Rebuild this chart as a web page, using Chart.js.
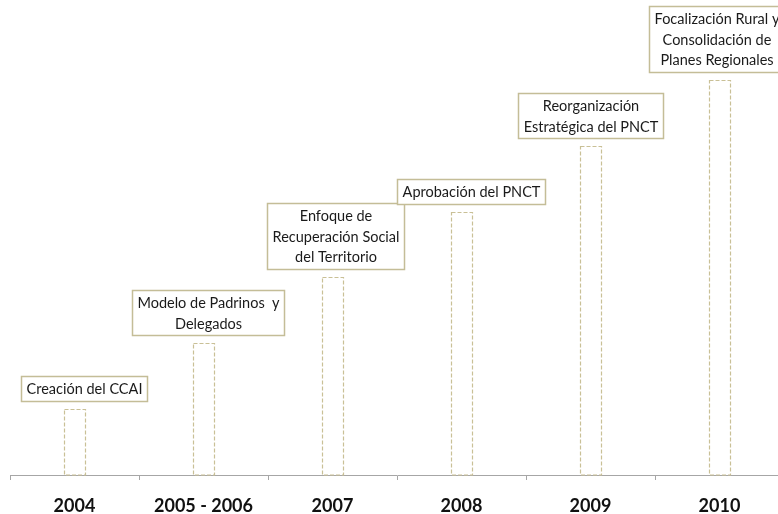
<!DOCTYPE html>
<html>
<head>
<meta charset="utf-8">
<script src="https://cdn.jsdelivr.net/npm/chart.js@4/dist/chart.umd.min.js"></script>
<style>
html, body { margin: 0; padding: 0; background: #fff; overflow: hidden; }
#wrap { width: 784px; height: 514px; }
</style>
</head>
<body>
<div id="wrap"><canvas id="chart"></canvas></div>
<script>
const years = ['2004', '2005 - 2006', '2007', '2008', '2009', '2010'];
const steps = [1, 2, 3, 4, 5, 6];
const milestones = [
    ['Creación del CCAI'],
    ['Modelo de Padrinos  y', 'Delegados'],
    ['Enfoque de', 'Recuperación Social', 'del Territorio'],
    ['Aprobación del PNCT'],
    ['Reorganización', 'Estratégica del PNCT'],
    ['Focalización Rural y', 'Consolidación de', 'Planes Regionales']
];

// bars in Chart.js can't be dashed, so stroke them ourselves from the bar elements
const dashedBars = {
    id: 'dashedBars',
    afterDatasetsDraw(chart, args, opts) {
        const ctx = chart.ctx;
        ctx.save();
        ctx.strokeStyle = opts.color;
        ctx.lineWidth = 1.2;
        ctx.setLineDash([4, 2]);
        chart.getDatasetMeta(0).data.forEach(bar => {
            const l = Math.round(bar.x - bar.width / 2) + 0.5;
            const r = Math.round(bar.x + bar.width / 2) - 0.5;
            const t = Math.round(bar.y) + 0.5;
            const b = Math.round(bar.base);
            ctx.strokeRect(l, t, r - l, b - t);
        });
        ctx.restore();
    }
};

const milestoneBoxes = {
    id: 'milestoneBoxes',
    afterDatasetsDraw(chart, args, opts) {
        const ctx = chart.ctx;
        ctx.save();
        ctx.font = opts.font;
        chart.getDatasetMeta(0).data.forEach((bar, i) => {
            const lines = milestones[i];
            const w = Math.round(Math.max(...lines.map(t => ctx.measureText(t).width)) + opts.padX * 2);
            const h = Math.round(lines.length * opts.lineHeight + opts.padY * 2);
            const cx = bar.x + (opts.shift[i] || 0);
            const left = Math.round(cx - w / 2) + 0.5;
            const top = Math.round(bar.y - opts.gap - h) + 0.5;
            ctx.fillStyle = '#fff';
            ctx.fillRect(left, top, w, h);
            ctx.strokeStyle = opts.border;
            ctx.lineWidth = 1.5;
            ctx.strokeRect(left, top, w, h);
            ctx.fillStyle = opts.color;
            ctx.textAlign = 'center';
            ctx.textBaseline = 'middle';
            lines.forEach((t, j) => ctx.fillText(t, left + w / 2, top + opts.padY + opts.lineHeight * (j + 0.5) + 1));
        });
        ctx.restore();
    }
};

new Chart(document.getElementById('chart'), {
    type: 'bar',
    data: {
        labels: years,
        datasets: [{
            data: steps,
            backgroundColor: 'rgba(0,0,0,0)',
            borderWidth: 0,
            barThickness: 22
        }]
    },
    options: {
        responsive: true,
        maintainAspectRatio: false,
        animation: false,
        events: [],
        layout: { padding: { left: 10, top: 14, right: 0, bottom: 0 } },
        plugins: {
            legend: { display: false },
            tooltip: { enabled: false },
            dashedBars: { color: '#c9c096' },
            milestoneBoxes: {
                font: '14.5px Lato',
                color: '#1a1a1a',
                border: '#c4bd97',
                padX: 5,
                padY: 2,
                lineHeight: 20.5,
                gap: 8,
                shift: [9, 4, 3, 9, 0, -3]
            }
        },
        scales: {
            x: {
                grid: { display: true, drawOnChartArea: false, tickLength: 5, color: '#a6a6a6', offset: true },
                border: { color: '#a6a6a6', width: 1 },
                ticks: {
                    font: { family: 'Lato', size: 18, weight: 'bold', lineHeight: 1 },
                    color: '#111',
                    padding: 17,
                    maxRotation: 0,
                    autoSkip: false
                },
                afterFit(scale) { scale.height = 39; }
            },
            y: { display: false, min: 0, max: 7 }
        }
    },
    plugins: [dashedBars, milestoneBoxes]
});
</script>
</body>
</html>
